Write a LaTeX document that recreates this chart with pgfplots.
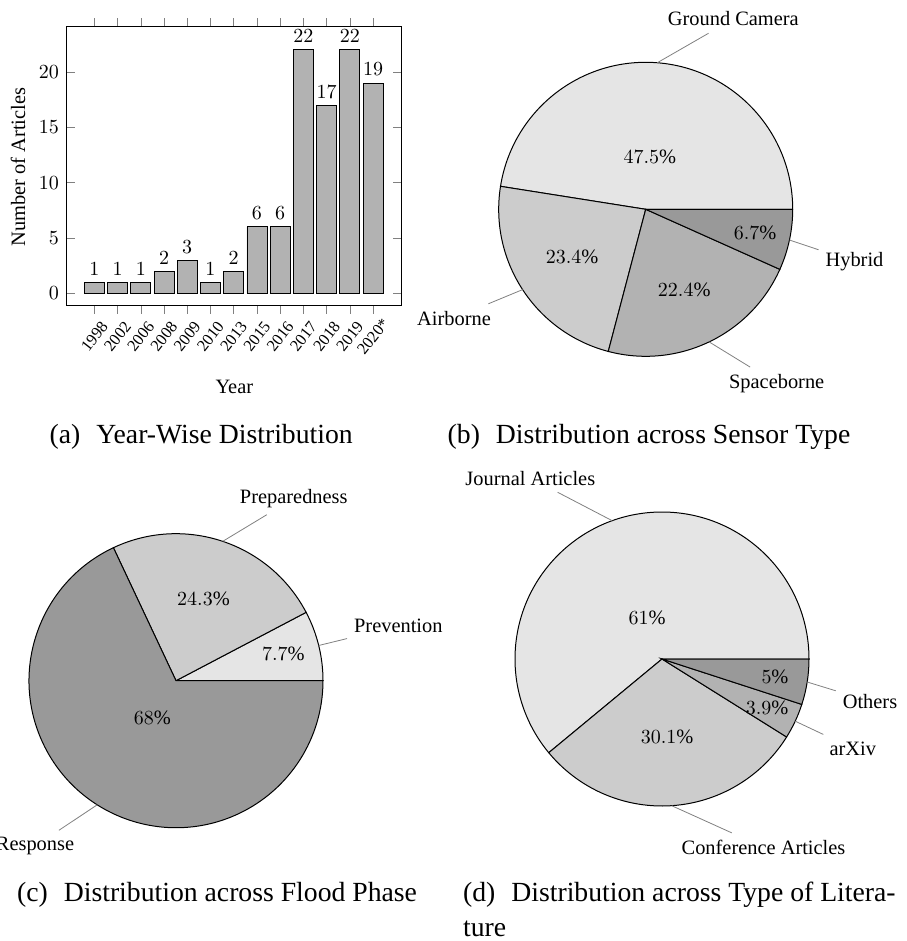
\documentclass[border=0pt]{standalone}
\usepackage{fontspec}
\setmainfont{Liberation Serif}
\usepackage{pgfplots}
\pgfplotsset{compat=1.18}

\def\pieR{73.5pt}
% #1 start (percent), #2 end (percent), #3 fill, #4 inner text, #5 outer label node
\newcommand\pieslice[5]{%
  \pgfmathsetmacro\sa{3.6*(#1)}%
  \pgfmathsetmacro\ea{3.6*(#2)}%
  \pgfmathsetmacro\ma{(\sa+\ea)/2}%
  \pgfmathsetmacro\pf{max(min((\ea-\sa-10)/110*(-0.3),0),-0.5)+0.8}%
  \edef\tmp{%
    \noexpand\filldraw[fill=#3, draw=black, line width=0.5pt] (axis cs:0,0) -- (axis cs:{cos(\sa)},{sin(\sa)}) arc[start angle=\sa, end angle=\ea, radius=\pieR] -- cycle;
    \noexpand\node at (axis cs:{\pf*cos(\ma)},{\pf*sin(\ma)}) {\unexpanded{#4}};
    \noexpand\coordinate (E#5) at (axis cs:{cos(\ma)},{sin(\ma)});
  }\tmp
}
\newcommand\pin[1]{\draw[gray, line width=0.4pt] (E#1) -- (#1);}
\pgfplotsset{pie/.style={hide axis, scale only axis, width=147pt, height=147pt,
  xmin=-1, xmax=1, ymin=-1, ymax=1, anchor=center, clip=false}}

\newcommand\capfont{\fontsize{13.85pt}{17.5pt}\selectfont}

\begin{document}
\begin{tikzpicture}[x=0.5pt, y=-0.5pt, font=\fontsize{10.2pt}{12.2pt}\selectfont]
\useasboundingbox (0,0) rectangle (906,941);

% ---------------- (a) bar chart ----------------
\coordinate (Aa) at (66,305);
\begin{axis}[at={(Aa)}, anchor=south west, scale only axis,
  width=167.8pt, height=139.2pt,
  xmin=-1.22, xmax=13.23, ymin=-1.06, ymax=24.1,
  ybar, bar width=10pt,
  xtick={0,1,2,3,4,5,6,7,8,9,10,11,12},
  xticklabels={1998,2002,2006,2008,2009,2010,2013,2015,2016,2017,2018,2019,2020*},
  xticklabel style={rotate=52, anchor=center, font=\fontsize{8.16pt}{9.5pt}\selectfont},
  xticklabel shift=11.5pt,
  ytick={0,5,10,15,20},
  nodes near coords,
  ]
\addplot[fill=black!30, draw=black] coordinates {
  (0,1) (1,1) (2,1) (3,2) (4,3) (5,1) (6,2) (7,6) (8,6) (9,22) (10,17) (11,22) (12,19)};
\end{axis}
\node[rotate=90] at (18,167) {Number of Articles};
\node[anchor=base] at (234.3,393) {Year};

% ---------------- (b) sensor type ----------------
\node[anchor=base] (Lgc) at (733.3,26) {Ground Camera};
\node[anchor=base] (Lhy) at (854.5,266.7) {Hybrid};
\node[anchor=base] (Lsp) at (776.7,388.3) {Spaceborne};
\node[anchor=base] (Lai) at (454,325) {Airborne};
\coordinate (Cb) at (645.7,209.3);
\begin{axis}[pie, at={(Cb)}]
\pieslice{0}{47.5}{black!10}{$47.5\%$}{Lgc}
\pieslice{47.5}{70.9}{black!20}{$23.4\%$}{Lai}
\pieslice{70.9}{93.3}{black!30}{$22.4\%$}{Lsp}
\pieslice{93.3}{100}{black!40}{$6.7\%$}{Lhy}
\end{axis}
\pin{Lgc}\pin{Lai}\pin{Lsp}\pin{Lhy}

% ---------------- (c) flood phase ----------------
\node[anchor=base] (Lpv) at (398.3,632.7) {Prevention};
\node[anchor=base] (Lpr) at (293.8,503.3) {Preparedness};
\node[anchor=base] (Lre) at (35,850.7) {Response};
\coordinate (Cc) at (176,680.7);
\begin{axis}[pie, at={(Cc)}]
\pieslice{0}{7.7}{black!10}{$7.7\%$}{Lpv}
\pieslice{7.7}{32}{black!20}{$24.3\%$}{Lpr}
\pieslice{32}{100}{black!40}{$68\%$}{Lre}
\end{axis}
\pin{Lpv}\pin{Lpr}\pin{Lre}

% ---------------- (d) type of literature ----------------
\node[anchor=base] (Lja) at (530.3,485) {Journal Articles};
\node[anchor=base] (Lca) at (763.5,854.3) {Conference Articles};
\node[anchor=base] (Lar) at (852.8,755) {arXiv};
\node[anchor=base] (Lot) at (870,708.3) {Others};
\coordinate (Cd) at (662,659);
\begin{axis}[pie, at={(Cd)}]
\pieslice{0}{61}{black!10}{$61\%$}{Lja}
\pieslice{61}{91.1}{black!20}{$30.1\%$}{Lca}
\pieslice{91.1}{95}{black!30}{$3.9\%$}{Lar}
\pieslice{95}{100}{black!40}{$5\%$}{Lot}
\end{axis}
\pin{Lja}\pin{Lca}\pin{Lar}\pin{Lot}

% ---------------- captions ----------------
\node[anchor=base west, inner sep=0, font=\capfont] at (49.3,443.3) {(a)\hspace{8pt}Year-Wise Distribution};
\node[anchor=base west, inner sep=0, font=\capfont] at (447.3,443.3) {(b)\hspace{8pt}Distribution across Sensor Type};
\node[anchor=base west, inner sep=0, font=\capfont] at (16.7,901.7) {(c)\hspace{8pt}Distribution across Flood Phase};
\node[anchor=base west, inner sep=0, font=\capfont] at (462.7,901.7) {(d)\hspace{8pt}Distribution across Type of Litera-};
\node[anchor=base west, inner sep=0, font=\capfont] at (462.7,936.7) {ture};
\end{tikzpicture}
\end{document}
